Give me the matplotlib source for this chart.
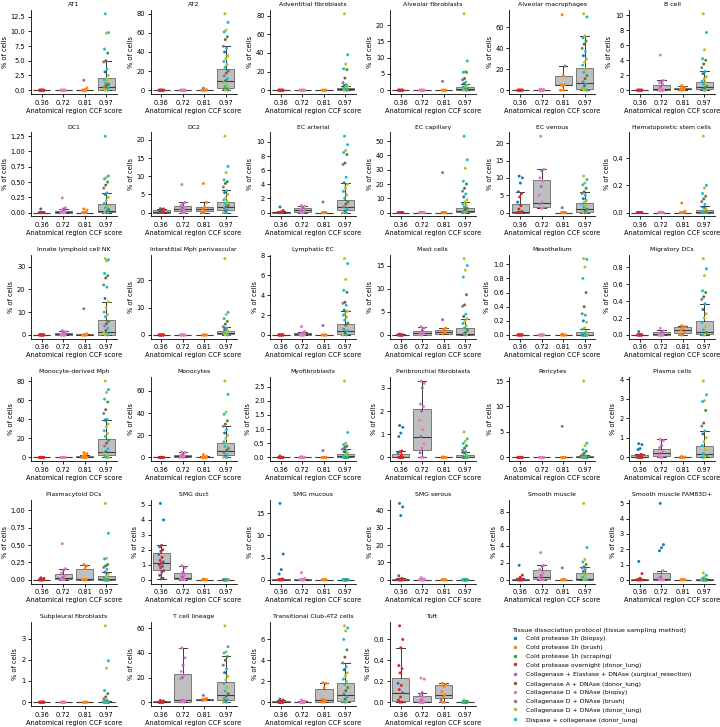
import matplotlib
matplotlib.use("Agg")
import matplotlib.pyplot as plt
from matplotlib.lines import Line2D
from matplotlib.ticker import MaxNLocator

ccf_scores = ["0.36", "0.72", "0.81", "0.97"]

protocols = [
    "Cold protease 1h (biopsy)",
    "Cold protease 1h (brush)",
    "Cold protease 1h (scraping)",
    "Cold protease overnight (donor_lung)",
    "Collagenase + Elastase + DNAse (surgical_resection)",
    "Collagenase A + DNAse (donor_lung)",
    "Collagenase D + DNAse (biopsy)",
    "Collagenase D + DNAse (brush)",
    "Collagenase D + DNAse (donor_lung)",
    "Dispase + collagenase (donor_lung)",
]

cell_types = [
    "AT1", "AT2", "Adventitial fibroblasts", "Alveolar fibroblasts", "Alveolar macrophages", "B cell",
    "DC1", "DC2", "EC arterial", "EC capillary", "EC venous", "Hematopoietic stem cells",
    "Innate lymphoid cell NK", "Interstitial Mph perivascular", "Lymphatic EC", "Mast cells", "Mesothelium", "Migratory DCs",
    "Monocyte-derived Mph", "Monocytes", "Myofibroblasts", "Peribronchial fibroblasts", "Pericytes", "Plasma cells",
    "Plasmacytoid DCs", "SMG duct", "SMG mucous", "SMG serous", "Smooth muscle", "Smooth muscle FAM83D+",
    "Subpleural fibroblasts", "T cell lineage", "Transitional Club-AT2 cells", "Tuft",
]

# box per CCF group: (lower whisker, q1, median, q3, upper whisker)
Z = (0, 0, 0, 0, 0)
box_stats = [
    [Z, Z, (0, 0, 0, 0.05, 0.1), (0, 0.1, 0.6, 2.0, 4.9)],
    [Z, Z, Z, (0, 2, 9.5, 22, 46)],
    [Z, Z, Z, (0, 0.2, 1, 2.5, 5)],
    [Z, Z, Z, (0, 0.1, 0.4, 0.9, 1.8)],
    [Z, (0, 0, 0, 0.05, 0.3), (0, 5, 5, 14, 23), (0, 1.5, 7, 21.5, 52)],
    [Z, (0, 0, 0.1, 0.75, 1.35), (0, 0.1, 0.2, 0.3, 0.6), (0, 0.1, 0.4, 1.1, 2.5)],
    [Z, (0, 0, 0.01, 0.03, 0.06), Z, (0, 0.01, 0.03, 0.14, 0.32)],
    [(0, 0, 0.1, 0.8, 1.1), (0, 0.4, 1.0, 1.7, 2.8), (0, 0.4, 0.9, 1.5, 2.8), (0, 0.6, 1.6, 3.0, 6.2)],
    [(0, 0, 0.02, 0.1, 0.2), (0, 0.1, 0.3, 0.6, 0.9), Z, (0, 0.3, 0.8, 1.8, 4.2)],
    [Z, Z, Z, (0, 0.2, 1, 3.5, 7.5)],
    [(0, 0, 0.1, 2.5, 6), (1.2, 1.5, 2.8, 9.5, 12.5), Z, (0, 0.3, 1, 2.8, 6)],
    [Z, Z, Z, (0, 0, 0.005, 0.02, 0.05)],
    [Z, (0, 0, 0.5, 1.0, 1.8), (0, 0, 0.1, 0.3, 0.5), (0, 0.1, 1.2, 6.5, 14.5)],
    [Z, Z, Z, (0, 0.3, 0.7, 1.6, 3.0)],
    [Z, (0, 0, 0.1, 0.2, 0.35), Z, (0, 0.1, 0.4, 1.1, 2.4)],
    [(0, 0, 0, 0.1, 0.2), (0, 0.1, 0.5, 0.9, 1.8), (0.2, 0.3, 0.7, 1.1, 1.5), (0, 0.1, 0.3, 1.5, 3.5)],
    [Z, Z, Z, (0, 0, 0.005, 0.04, 0.08)],
    [Z, (0, 0, 0.01, 0.04, 0.06), (0, 0.02, 0.06, 0.09, 0.11), (0, 0.01, 0.04, 0.16, 0.37)],
    [Z, Z, (0, 0, 0.5, 1.5, 2.5), (0, 2, 5.5, 19, 39)],
    [Z, (0, 0.2, 1, 2.5, 5), (0, 0, 0.3, 0.6, 1), (0, 2, 5.5, 13, 28)],
    [Z, Z, Z, (0, 0, 0.04, 0.12, 0.3)],
    [(0, 0, 0.02, 0.15, 0.28), (0, 0.3, 0.9, 2.1, 3.3), Z, (0, 0, 0.03, 0.12, 0.25)],
    [Z, Z, Z, (0, 0, 0.05, 0.2, 0.4)],
    [(0, 0, 0.01, 0.1, 0.15), (0, 0.05, 0.2, 0.45, 0.92), Z, (0, 0.02, 0.15, 0.58, 1.35)],
    [Z, (0, 0.01, 0.03, 0.08, 0.16), (0, 0, 0.005, 0.16, 0.22), (0, 0, 0.01, 0.05, 0.11)],
    [(0.05, 0.65, 1.15, 1.82, 2.3), (0, 0.05, 0.15, 0.42, 0.95), Z, Z],
    [(0, 0, 0, 0.1, 0.2), (0, 0, 0, 0.1, 0.2), Z, Z],
    [(0, 0, 0.1, 0.4, 0.8), Z, Z, Z],
    [(0, 0, 0, 0.1, 0.2), (0, 0.1, 0.35, 1.2, 1.7), Z, (0, 0.02, 0.15, 0.75, 1.5)],
    [(0, 0, 0, 0.02, 0.05), (0, 0, 0.05, 0.42, 0.6), Z, (0, 0, 0, 0.02, 0.05)],
    [Z, Z, Z, (0, 0, 0, 0.03, 0.07)],
    [(0, 0, 0.2, 0.6, 1.0), (0, 0.5, 1.5, 22.5, 44), (1.5, 1.8, 2, 2.2, 2.5), (0, 2, 5.5, 16, 37.5)],
    [(0, 0, 0.05, 0.12, 0.25), (0, 0, 0.01, 0.05, 0.1), (0, 0.05, 0.2, 1.3, 1.85), (0, 0.1, 0.7, 1.8, 3.75)],
    [(0, 0.01, 0.09, 0.23, 0.52), (0, 0, 0.005, 0.06, 0.09), (0, 0.04, 0.07, 0.16, 0.18), Z],
]

# non-zero samples per CCF group; (value, protocol) where the colour is known
sample_points = [
    [[], [], [(1.7, 4), 0.35, 0.1], [(13.0, 9), 9.8, 9.7, 7.0, 6.3, 5.0, 4.8, 3.6, 3.1, 2.5, 2.0, 1.8, 1.5, 1.2, 1.0, 0.8, 0.6, 0.4, 0.3, 0.2, 0.1]],
    [[], [], [(2, 4), 0.5], [80, 71, 63, 61, 56, 53, 46, 44, 40, 36, 33, 30, 27, 24, 20, 18, 15, 12, 10, 8, 6, 4, 3, 2, 1, 0.5]],
    [[], [], [], [82, 38, 28, 23, 22, 13, 8, 6, 5, 4, 3, 2, 1.5, 1, 0.5, 0.2]],
    [[], [], [2.7], [23.5, 9, 5.7, 5.5, 5.5, 3.6, 3.2, 2.5, 2, 1.5, 1.2, 1, 0.8, 0.5, 0.3, 0.1]],
    [[], [1, 0.5], [(72, 1), (23, 4), 14, 5, 5, 4], [73, 70, 52, 50, 47, 44, 40, 37, 33, 30, 27, 24, 20, 17, 14, 11, 8, 6, 4, 2, 1]],
    [[], [(4.7, 6), 1.3, 1.2, 1.0, 0.8, 0.5, 0.2], [(0.6, 1), 0.4, 0.3, 0.2, 0.1], [10.2, 7.7, 5.4, 4.2, 4.0, 3.5, 3.0, 2.5, 2.2, 1.8, 1.5, 1.2, 1.0, 0.8, 0.5, 0.3, 0.1]],
    [[0.06], [0.24, 0.08, 0.06, 0.04, 0.02], [(0.06, 1), 0.04], [(1.25, 9), 0.6, 0.58, 0.55, 0.5, 0.45, 0.4, 0.32, 0.3, 0.25, 0.2, 0.15, 0.1, 0.08, 0.05, 0.02]],
    [[1.1, 1.0, 0.8, 0.5, 0.2], [7.7, 2.8, 2.5, 2.0, 1.5, 1.2, 1.0, 0.7, 0.4], [(8.0, 1), 2.8, 1.5, 1.0, 0.5], [21, 12.7, 11, 9, 8.5, 8, 7, 6, 5.5, 5, 4, 3.5, 3, 2.5, 2, 1.6, 1.2, 0.8, 0.4]],
    [[0.8, 0.3, 0.1], [1.0, 0.9, 0.7, 0.5, 0.3, 0.2, 0.1], [1.5], [(10.8, 9), 9.6, 8.8, 8.5, 8.2, 7, 6.8, 5, 4.2, 4, 3.5, 3, 2.5, 2, 1.5, 1.2, 0.8, 0.5, 0.2]],
    [[], [], [28], [(53.5, 9), 37, 31, 22, 20, 17, 15, 13, 11, 9, 7.5, 6, 5, 4, 3, 2, 1, 0.5]],
    [[(10.5, 0), (10, 0), (8.5, 0), 6, 5.5, 4.5, 3, 2, 1, 0.3], [22, 12.5, 12, 10, 9, 7.5, 5, 3, 2.5, 1.5, 1.2], [1.4], [10.5, 9.5, 8.5, 8, 7, 6, 5.5, 5, 4, 3.5, 3, 2.5, 2, 1.5, 1, 0.5]],
    [[], [0.005], [(0.07, 1), 0.01], [0.56, 0.2, 0.18, 0.14, 0.12, 0.1, 0.08, 0.06, 0.04, 0.03, 0.02, 0.01]],
    [[], [2, 1.5, 1, 0.5], [11.5, 0.5, 0.2], [33.5, 33, 32.5, 27, 26, 25, 22, 21, 16, 14.5, 12, 10, 9, 8, 6, 5, 4, 3, 2, 1, 0.5]],
    [[], [], [], [28, 8.3, 7.5, 6, 5, 4, 3, 2.5, 2, 1.5, 1, 0.5, 0.2]],
    [[], [0.85, 0.35, 0.2, 0.1], [0.95], [7.7, 7.2, 5.6, 4.5, 4.3, 3.3, 3.2, 3, 2.5, 2.4, 2.2, 2, 1.8, 1.5, 1.2, 1.0, 0.6, 0.4, 0.2]],
    [[0.2], [1.8, 1.5, 1, 0.5, 0.2], [3.3, 1.5, 1.2, 0.8, 0.5, 0.2], [16.5, 15, 14, 12.5, 8.7, 6.5, 6.2, 4.5, 4, 3.5, 3, 2.5, 2, 1.5, 1, 0.5, 0.2]],
    [[], [], [0.01], [1.08, 1.07, 0.96, 0.8, 0.6, 0.4, 0.3, 0.28, 0.2, 0.18, 0.1, 0.08, 0.05, 0.02]],
    [[0.04], [0.08, 0.05, 0.03, 0.01], [(0.11, 1), 0.1, 0.08, 0.06, 0.03], [0.9, 0.78, 0.7, 0.52, 0.5, 0.45, 0.42, 0.37, 0.3, 0.25, 0.2, 0.15, 0.1, 0.06, 0.03]],
    [[], [], [(5, 1), 4, 2.5, 1.5, 0.5], [80, 71, 68, 61, 58, 50, 46, 40, 39, 35, 32, 28, 25, 22, 18, 15, 12, 9, 6, 4, 2, 1]],
    [[], [5, 4.5, 3, 2, 1, 0.5], [(2.5, 1), 1, 0.5], [69, 57, 41, 39, 33, 30, 28, 25, 22, 20, 17, 14, 12, 10, 8, 6, 4, 2, 1]],
    [[0.05], [0.03], [0.24], [2.7, 0.88, 0.5, 0.45, 0.4, 0.35, 0.3, 0.25, 0.2, 0.15, 0.1, 0.05, 0.02]],
    [[(1.38, 0), (1.3, 0), (1.05, 0), (0.9, 0), 0.28, 0.25, 0.2, 0.1], [3.3, 3.2, 3.0, 2.3, 2.2, 2.0, 1.6, 1.2, 0.9, 0.6, 0.4, 0.2], [0.02], [1.1, 0.8, 0.7, 0.6, 0.5, 0.4, 0.3, 0.25, 0.2, 0.1, 0.05]],
    [[], [], [6.1], [15, 2.8, 2.3, 1.5, 1.2, 0.8, 0.5, 0.3, 0.1]],
    [[(0.7, 0), (0.65, 0), (0.45, 0), (0.4, 0), 0.15, 0.1, 0.05], [0.92, 0.85, 0.6, 0.5, 0.3, 0.2, 0.1], [(0.05, 1), 0.02], [3.9, 3.2, 2.9, 2.85, 2.4, 1.75, 1.6, 1.35, 1.2, 1.0, 0.8, 0.6, 0.4, 0.2, 0.1]],
    [[0.03, 0.02], [0.52, 0.16, 0.14, 0.1, 0.06, 0.03, 0.01], [(0.22, 1), 0.2, 0.16], [1.1, 0.67, 0.31, 0.3, 0.22, 0.2, 0.18, 0.15, 0.11, 0.08, 0.05, 0.02]],
    [[(5.1, 0), (4.0, 0), (2.3, 3), 2.2, 2.0, 1.9, 1.7, 1.5, 1.3, 1.2, 1.1, 1.0, 0.9, 0.8, 0.6, 0.5, 0.3, 0.1, 0.05], [0.95, 0.8, 0.5, 0.4, 0.3, 0.2, 0.1, 0.05], [(0.05, 1)], [0.03]],
    [[(17.2, 0), (5.8, 0), (2.3, 0), 1.3, 0.2], [1.6, 0.3], [], []],
    [[(44, 0), (42, 0), (37, 0), 2.3, 0.8, 0.4], [1.3, 0.5, 0.2], [], []],
    [[1.7, 0.55, 0.3, 0.1], [3.2, 1.7, 1.6, 1.2, 0.8, 0.5, 0.3, 0.1], [1.4], [9.0, 3.8, 2.4, 2.1, 1.8, 1.5, 1.4, 1.2, 1.0, 0.7, 0.5, 0.3, 0.1]],
    [[1.2, 0.4, 0.1], [(5.0, 0), (2.3, 0), (2.1, 0), (1.9, 0), 0.6, 0.2, 0.1], [], [0.45, 0.3, 0.2, 0.1]],
    [[], [], [], [3.6, 1.95, 1.6, 0.55, 0.4, 0.25, 0.15, 0.1, 0.05]],
    [[1.5, 1, 0.5], [44, 36, 30, 25, 22, 20, 19, 2, 1.5, 1, 0.5], [(5.5, 4), 3, 2.5, 2.2, 2, 1.8, 1.5], [62, 45, 41, 40, 37, 34, 30, 27, 24, 21, 18, 15, 12, 9, 7, 5, 3, 2, 1]],
    [[0.3, 0.2, 0.1, 0.05], [0.2, 0.1, 0.05], [(1.85, 1), 1.8, 1.4, 0.3, 0.2, 0.05], [7.3, 7.1, 6.8, 6.0, 5.0, 4.3, 3.75, 3.4, 3.1, 2.8, 2.5, 2.2, 2.0, 1.7, 1.4, 1.1, 0.8, 0.5, 0.3, 0.1]],
    [[(0.73, 3), (0.6, 3), (0.52, 3), (0.35, 3), (0.32, 3), 0.28, 0.18, 0.16, 0.12, 0.09, 0.05, 0.02], [0.23, 0.22, 0.09, 0.07, 0.05, 0.02], [(0.18, 1), 0.17, 0.15, 0.1, 0.07, 0.05, 0.02], [0.02, 0.01]],
]

# which protocols the samples of each CCF group mostly come from
group_protocols = [[0, 3, 3], [6, 6, 4], [4, 1, 1, 1, 1, 1], [8, 9, 8, 9, 2, 5, 7, 9, 0, 8]]
zero_protocols = [[3], [6], [1], [8, 9, 2, 9, 5, 7, 0, 8]]
zero_counts = [10, 8, 5, 20]

colors = plt.get_cmap("tab10").colors

plt.rcParams["font.family"] = "DejaVu Sans"
plt.rcParams["font.size"] = 4.75
plt.rcParams["axes.titlesize"] = 4.45
plt.rcParams["axes.linewidth"] = 0.6
plt.rcParams["xtick.major.width"] = 0.6
plt.rcParams["ytick.major.width"] = 0.6
plt.rcParams["xtick.major.size"] = 2
plt.rcParams["ytick.major.size"] = 2
plt.rcParams["xtick.major.pad"] = 2
plt.rcParams["ytick.major.pad"] = 2

fig = plt.figure(figsize=(7.2, 7.27), dpi=100)


def jitter(i):
    # fixed, evenly spread offsets so the strip is reproducible
    return 0.12 * (2 * ((i * 0.618034 + 0.31) % 1) - 1)


for k, name in enumerate(cell_types):
    r, c = divmod(k, 6)
    ax = fig.add_axes([(31 + 119.6 * c) / 720, 1 - (94 + 122.4 * r) / 727, 86 / 720, 84 / 727])

    stats = []
    for lo, q1, med, q3, hi in box_stats[k]:
        stats.append(dict(whislo=lo, q1=q1, med=med, q3=q3, whishi=hi, fliers=[]))
    ax.bxp(stats, positions=range(4), widths=0.8, patch_artist=True, showfliers=False,
           boxprops=dict(facecolor="#bfbfbf", edgecolor="#505050", linewidth=0.5),
           medianprops=dict(color="#3a3a3a", linewidth=0.8),
           whiskerprops=dict(color="#3a3a3a", linewidth=0.7),
           capprops=dict(color="#3a3a3a", linewidth=0.7))

    for g in range(4):
        ys, cs = [], []
        for i, p in enumerate(sample_points[k][g]):
            if isinstance(p, tuple):
                v, proto = p
            else:
                v, proto = p, group_protocols[g][i % len(group_protocols[g])]
            ys.append(v)
            cs.append(colors[proto])
        lo, q1 = box_stats[k][g][0], box_stats[k][g][1]
        if lo == 0:
            n0 = zero_counts[g] if q1 == 0 else 2
            for j in range(n0):
                ys.append(0)
                cs.append(colors[zero_protocols[g][j % len(zero_protocols[g])]])
        xs = [g + jitter(i) for i in range(len(ys))]
        ax.scatter(xs, ys, s=4.5, c=cs, linewidths=0, zorder=3)

    ax.set_xlim(-0.5, 3.5)
    ax.set_xticks(range(4))
    ax.set_xticklabels(ccf_scores)
    ax.yaxis.set_major_locator(MaxNLocator(nbins=6, steps=[1, 2, 2.5, 5, 10]))
    ax.set_title(name, pad=2.8)
    ax.set_ylabel("% of cells", labelpad=2)
    ax.set_xlabel("Anatomical region CCF score", labelpad=1.5)
    ax.spines["top"].set_visible(False)
    ax.spines["right"].set_visible(False)

handles = [Line2D([], [], marker="o", linestyle="", markersize=2.5, markeredgewidth=0,
                  color=colors[i]) for i in range(len(protocols))]
fig.legend(handles, protocols, title="Tissue dissociation protocol (tissue sampling method)",
           loc="upper left", bbox_to_anchor=(0.703, 0.144), frameon=False,
           fontsize=4.4, title_fontsize=4.6, alignment="left",
           handletextpad=1.1, labelspacing=0.55, handlelength=1.2)

fig.savefig("out.png", dpi=100)
